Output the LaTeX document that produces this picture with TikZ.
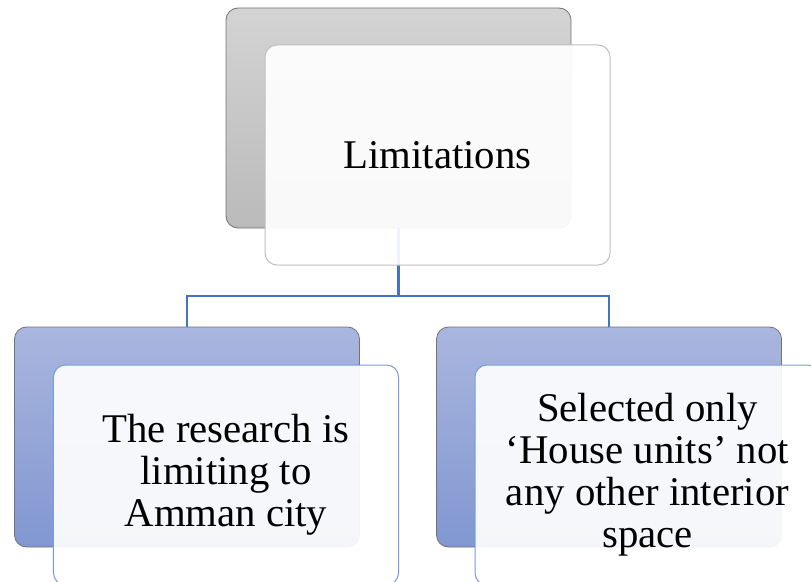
\documentclass[tikz,border=0pt]{standalone}
\usepackage{fontspec}
\setmainfont{Liberation Serif}

\definecolor{linkblue}{HTML}{4472C4}
\definecolor{frontblue}{HTML}{7C9BDA}

\begin{document}
\begin{tikzpicture}[x=0.25mm, y=-0.25mm]
  \tikzstyle{back} = [rectangle, rounded corners = 3mm, draw = black!55, minimum width = 86.25mm, minimum height = 55mm, line width = 0.2mm]
  \tikzstyle{grayback} = [back, top color = black!17, bottom color = black!27]
  \tikzstyle{blueback} = [back, top color = {rgb,255:red,169;green,182;blue,222}, bottom color = {rgb,255:red,129;green,151;blue,209}]
  \tikzstyle{front} = [rectangle, rounded corners = 3mm, fill = white, fill opacity = 0.92, text opacity = 1, minimum width = 86.25mm, minimum height = 55mm, line width = 0.25mm, align = center, font = \fontsize{29}{29.9}\selectfont]
  \tikzstyle{grayfront} = [front, draw = black!25]
  \tikzstyle{bluefront} = [front, draw = frontblue]
  \tikzstyle{link} = [-, draw = linkblue, line width = 0.6mm]

  \useasboundingbox (0,0) rectangle (811,582);
  \clip (0,0) rectangle (811,582);

  \node [grayback] at (398.5,118) (top_back) {};
  \node [blueback] at (187,437) (left_back) {};
  \node [blueback] at (609,437) (right_back) {};

  \coordinate (split) at (398.5,296);
  \draw[link] (top_back.south) to (split);
  \draw[link] (split) -| (left_back);
  \draw[link] (split) -| (right_back);

  \node [grayfront] at (437.5,155) (top_front) {Limitations};
  \node [bluefront] at (226,475) (left_front) {The research is\\limiting to\\Amman city};
  \node [bluefront] at (647.5,475) (right_front) {Selected only\\`House units' not\\any other interior\\space};
\end{tikzpicture}
\end{document}
